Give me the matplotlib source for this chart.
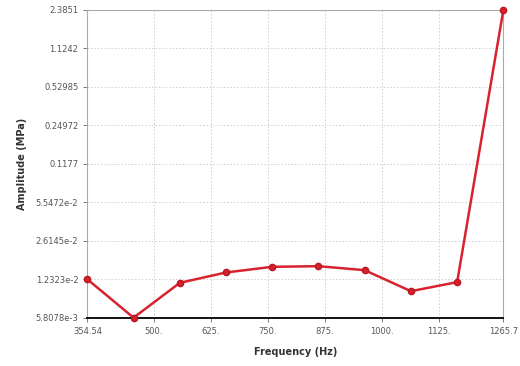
import numpy as np
import matplotlib
matplotlib.use("Agg")
import matplotlib.pyplot as plt
from matplotlib.ticker import FixedLocator, NullLocator

freq = [354.54, 455.78, 557.02, 658.26, 759.5, 860.74, 961.98, 1063.22, 1164.46, 1265.7]
amplitude = [0.0123, 0.0058078, 0.01148, 0.01406, 0.0157, 0.0159, 0.0147, 0.00975, 0.01164, 2.3851]

xticks = [354.54, 500, 625, 750, 875, 1000, 1125, 1265.7]
xticklabels = ["354.54", "500.", "625.", "750.", "875.", "1000.", "1125.", "1265.7"]
yticks = [5.8078e-3, 1.2323e-2, 2.6145e-2, 5.5472e-2, 0.1177, 0.24972, 0.52985, 1.1242, 2.3851]
yticklabels = ["5.8078e-3", "1.2323e-2", "2.6145e-2", "5.5472e-2", "0.1177",
               "0.24972", "0.52985", "1.1242", "2.3851"]

fig = plt.figure(figsize=(5.2, 3.66), dpi=100)
ax = fig.add_axes([0.168, 0.132, 0.800, 0.841])

ax.plot(freq, amplitude, color="#d8232f", lw=1.8, marker="o", ms=4.5,
        markerfacecolor="#d81f2a", markeredgecolor="#b81a25", zorder=3, clip_on=False)

ax.set_yscale("log")
ax.set_xlim(354.54, 1265.7)
ax.set_ylim(5.8078e-3, 2.3851)
ax.xaxis.set_major_locator(FixedLocator(xticks))
ax.set_xticklabels(xticklabels)
ax.yaxis.set_major_locator(FixedLocator(yticks))
ax.yaxis.set_minor_locator(NullLocator())
ax.set_yticklabels(yticklabels)

ax.tick_params(axis="both", labelsize=6, colors="#666666", length=3, width=0.6)
for lab in ax.get_xticklabels() + ax.get_yticklabels():
    lab.set_color("#555555")

ax.grid(True, color="#cfcfcf", linestyle=(0, (1.5, 2)), linewidth=0.7)
for s in ["left", "top", "right"]:
    ax.spines[s].set_color("#aaaaaa")
    ax.spines[s].set_linewidth(0.8)
ax.spines["bottom"].set_color("#111111")
ax.spines["bottom"].set_linewidth(1.4)

ax.set_xlabel("Frequency (Hz)", fontsize=7, fontweight="bold", color="#333333", labelpad=8)
ax.set_ylabel("Amplitude (MPa)", fontsize=7, fontweight="bold", color="#333333", labelpad=6)

fig.savefig("out.png", dpi=100)
